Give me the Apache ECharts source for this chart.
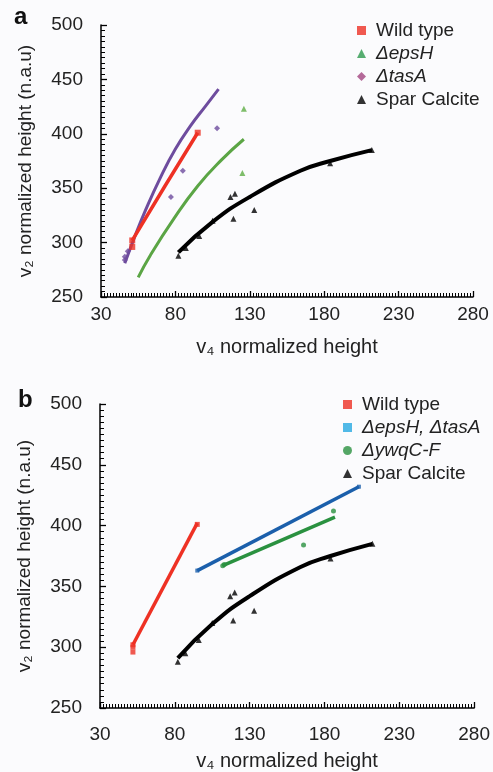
<!DOCTYPE html>
<html>
<head>
<meta charset="utf-8">
<script src="https://cdn.jsdelivr.net/npm/echarts@6/dist/echarts.min.js"></script>
<style>
html, body { margin: 0; padding: 0; background: #fbfbfd; }
#chart { width: 493px; height: 772px; }
</style>
</head>
<body>
<div id="chart"></div>
<script>
// tick labels (both panels)
var xTicks = [30, 80, 130, 180, 230, 280];
var yTicks = [250, 300, 350, 400, 450, 500];

// panel a: measured points
var wtPointsA = [[51, 296], [51, 302], [95, 401]];
var epsHPoints = [[125, 364], [126, 423]];
var tasAPoints = [[46, 284], [46, 287], [48, 292], [77, 342], [85, 366], [108, 405]];
var calcitePoints = [[82, 288], [87, 295], [96, 306], [105, 320], [117, 342], [120, 345], [119, 322], [133, 330], [184, 373], [212, 385]];

// panel a: fitted curves
var wtFitA = [[51, 302], [73, 352], [95, 401]];
var epsHFit = [[55, 268], [63, 288], [79, 322], [95, 352], [111, 376], [126, 395]];
var tasAFit = [[46, 281], [52, 303], [60, 330], [70, 360], [80, 386], [90, 407], [100, 425], [109, 441]];
var calciteFit = [[82, 291], [105, 319], [130, 342], [164, 366], [184, 375], [212, 385]];

// panel b: measured points
var wtPointsB = [[52, 296], [52, 300], [52, 302], [95, 401]];
var epsTasPoints = [[95, 363], [203, 432]];
var ywqPoints = [[112, 367], [113, 368], [166, 384], [186, 412]];

// panel b: fitted lines
var wtFitB = [[52, 302], [95, 402]];
var epsTasFit = [[95, 363], [203, 432]];
var ywqFit = [[112, 367], [187, 407]];

var italicNames = ['ΔepsH', 'ΔtasA', 'ΔepsH, ΔtasA', 'ΔywqC-F'];
var txt = '#222';
var font = 'Liberation Sans, Arial, sans-serif';

// one axis per side: line, labels, inside major + minor ticks
function makeAxis(dim, grid, ticks, split, labelMargin, nameGap, name) {
    return {
        type: 'value',
        gridIndex: grid,
        position: dim == 'x' ? 'bottom' : 'left',
        min: ticks[0],
        max: ticks[ticks.length - 1],
        interval: ticks[1] - ticks[0],
        name: name,
        nameLocation: 'middle',
        nameGap: nameGap,
        nameTextStyle: { fontSize: dim == 'x' ? 20 : 19, color: txt, fontFamily: font },
        axisLine: { show: true, lineStyle: { color: '#000', width: 1.5 } },
        axisTick: { show: true, inside: true, length: 6, lineStyle: { color: '#000', width: 1.3 } },
        minorTick: { show: true, splitNumber: split, length: 4, lineStyle: { color: '#000' } },
        axisLabel: { margin: labelMargin, fontSize: 19, color: txt, fontFamily: font },
        splitLine: { show: false }
    };
}

function fit(name, data, color, width, xi) {
    return {
        name: name, type: 'line', data: data, xAxisIndex: xi, yAxisIndex: xi,
        smooth: true, showSymbol: false, symbol: 'none', z: 2,
        lineStyle: { color: color, width: width }, silent: true
    };
}

function pts(name, data, color, symbol, size, xi) {
    return {
        name: name, type: 'scatter', data: data, xAxisIndex: xi, yAxisIndex: xi,
        symbol: symbol, symbolSize: size, z: 3,
        itemStyle: { color: color }
    };
}

function legendText(name) {
    return italicNames.indexOf(name) >= 0 ? '{i|' + name + '}' : name;
}

var legendStyle = {
    fontSize: 19, lineHeight: 19, color: txt, fontFamily: font, padding: [0, 0, 0, 5],
    rich: { i: { fontSize: 19, fontStyle: 'italic', color: txt, fontFamily: font } }
};

var chart = echarts.init(document.getElementById('chart'));

var option = {
    backgroundColor: '#fbfbfd',
    animation: false,
    title: [
        { text: 'a', left: 9, top: 0, textStyle: { fontSize: 24, fontWeight: 'bold', color: '#111', fontFamily: font } },
        { text: 'b', left: 13, top: 383, textStyle: { fontSize: 24, fontWeight: 'bold', color: '#111', fontFamily: font } }
    ],
    grid: [
        { left: 101, right: 20, top: 25, height: 272 },
        { left: 100, right: 18, top: 404, height: 304 }
    ],
    xAxis: [
        makeAxis('x', 0, xTicks, 25, 8, 40, 'v₄ normalized height'),
        makeAxis('x', 1, xTicks, 25, 17, 43, 'v₄ normalized height')
    ],
    yAxis: [
        makeAxis('y', 0, yTicks, 10, 18, 66, 'v₂ normalized height (n.a.u)'),
        makeAxis('y', 1, yTicks, 10, 18, 66, 'v₂ normalized height (n.a.u)')
    ],
    legend: [
        {
            orient: 'vertical', left: 352, top: 16, itemGap: 4, itemWidth: 9, itemHeight: 9,
            formatter: legendText, textStyle: legendStyle,
            data: [
                { name: 'Wild type', icon: 'rect', itemStyle: { color: '#ee3124' } },
                { name: 'ΔepsH', icon: 'triangle', itemStyle: { color: '#2e9a4e' } },
                { name: 'ΔtasA', icon: 'diamond', itemStyle: { color: '#a3457f' } },
                { name: 'Spar Calcite', icon: 'triangle', itemStyle: { color: '#000' } }
            ]
        },
        {
            orient: 'vertical', left: 338, top: 390, itemGap: 4, itemWidth: 9, itemHeight: 9,
            formatter: legendText, textStyle: legendStyle,
            data: [
                { name: 'Wild type', icon: 'rect', itemStyle: { color: '#ee3124' } },
                { name: 'ΔepsH, ΔtasA', icon: 'rect', itemStyle: { color: '#27a9e1' } },
                { name: 'ΔywqC-F', icon: 'circle', itemStyle: { color: '#2a9140' } },
                { name: 'Spar Calcite', icon: 'triangle', itemStyle: { color: '#000' } }
            ]
        }
    ],
    series: [
        // panel a
        fit('fitTasA', tasAFit, '#6e4c9e', 3, 0),
        fit('fitWtA', wtFitA, '#ee3124', 3.5, 0),
        fit('fitEpsH', epsHFit, '#5ba545', 3, 0),
        fit('fitCalciteA', calciteFit, '#000', 4, 0),
        pts('Wild type', wtPointsA, '#ee3124', 'rect', 6, 0),
        pts('ΔepsH', epsHPoints, '#5fae45', 'triangle', 6, 0),
        pts('ΔtasA', tasAPoints, '#6e4c9e', 'diamond', 6, 0),
        pts('Spar Calcite', calcitePoints, '#000', 'triangle', 6, 0),
        // panel b
        fit('fitWtB', wtFitB, '#ee3124', 3.5, 1),
        fit('fitEpsTas', epsTasFit, '#1b5fab', 3.5, 1),
        fit('fitYwq', ywqFit, '#2a9140', 3.5, 1),
        fit('fitCalciteB', calciteFit, '#000', 4, 1),
        pts('Wild type', wtPointsB, '#ee3124', 'rect', 5, 1),
        pts('ΔepsH, ΔtasA', epsTasPoints, '#1b5fab', 'rect', 4, 1),
        pts('ΔywqC-F', ywqPoints, '#2a9140', 'circle', 5, 1),
        pts('Spar Calcite', calcitePoints, '#000', 'triangle', 6, 1)
    ]
};

chart.setOption(option);
</script>
</body>
</html>
